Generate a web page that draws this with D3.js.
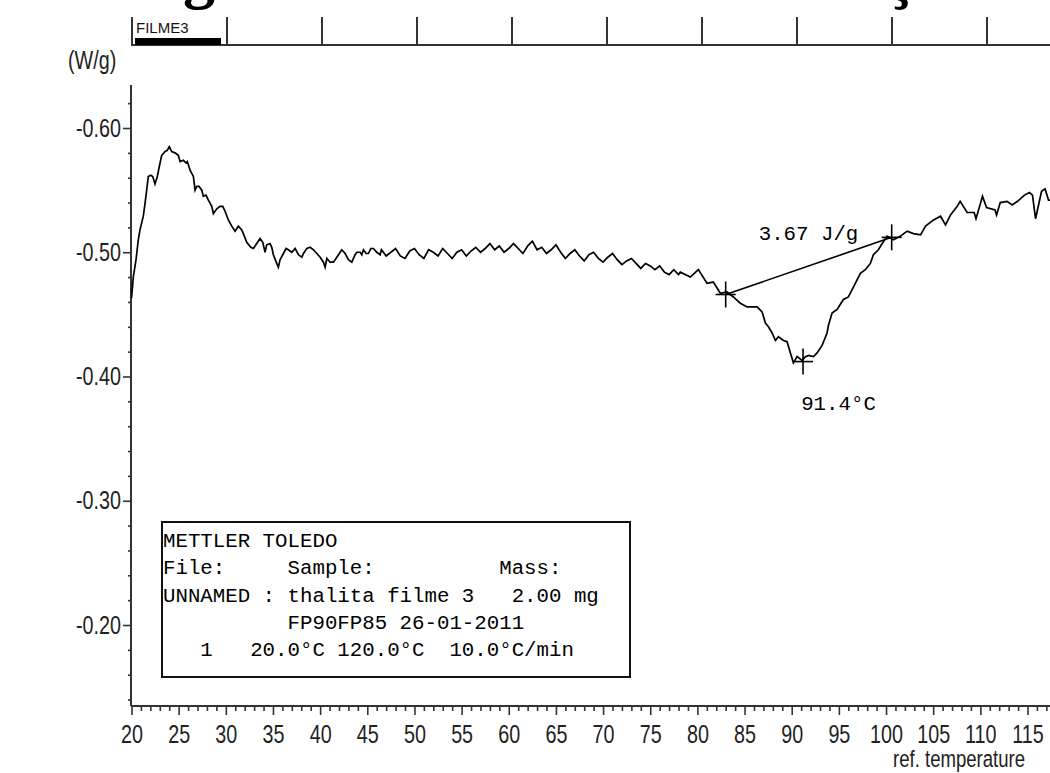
<!DOCTYPE html>
<html>
<head>
<meta charset="utf-8">
<script src="https://cdn.jsdelivr.net/npm/d3@7"></script>
<style>
    body { margin: 0; background: #fff; }
    svg { display: block; }
    .sans { font-family: "Liberation Sans", Arial, sans-serif; }
    .mono { font-family: "Liberation Mono", "Courier New", monospace; }
</style>
</head>
<body>
<svg width="1050" height="773"></svg>
<script>
// DSC curve, temperature (°C) / heat flow (W/g)
// heating ramp start-up, 20-46 °C
var rampTemps = [
    20.00, 20.19, 20.48, 20.72, 20.90, 21.25, 21.43, 21.61, 21.78, 22.04,
    22.25, 22.49, 22.74, 22.92, 23.20, 23.55, 23.80, 24.01, 24.26, 24.61,
    24.96, 25.15, 25.50, 25.78, 25.92, 26.21, 26.56, 26.74, 26.92, 27.16,
    27.45, 27.62, 27.90, 28.15, 28.51, 28.68, 29.04, 29.39, 29.68, 29.92,
    30.27, 30.63, 30.98, 31.33, 31.69, 31.86, 32.22, 32.65, 32.92, 33.28,
    33.63, 33.92, 34.16, 34.34, 34.69, 34.87, 35.04, 35.40, 35.57, 35.75,
    36.04, 36.39, 36.63, 36.99, 37.35, 37.70, 38.06, 38.23, 38.59, 38.94,
    39.29, 39.65, 40.00, 40.35, 40.53, 40.71, 41.06, 41.41, 41.77, 42.12,
    42.30, 42.65, 43.00, 43.36, 43.71, 43.89, 44.24, 44.42, 44.59, 44.88,
    45.12, 45.38, 45.65, 46.01, 46.36
];
var rampFlow = [
    -0.463, -0.480, -0.494, -0.510, -0.518, -0.529, -0.539, -0.550, -0.561, -0.562,
    -0.561, -0.555, -0.561, -0.568, -0.578, -0.581, -0.582, -0.585, -0.581, -0.580,
    -0.578, -0.573, -0.574, -0.572, -0.573, -0.566, -0.561, -0.550, -0.553, -0.553,
    -0.550, -0.545, -0.546, -0.542, -0.537, -0.531, -0.535, -0.537, -0.537, -0.533,
    -0.526, -0.521, -0.517, -0.521, -0.518, -0.515, -0.508, -0.504, -0.503, -0.507,
    -0.511, -0.508, -0.500, -0.506, -0.507, -0.504, -0.498, -0.491, -0.488, -0.494,
    -0.498, -0.503, -0.502, -0.500, -0.503, -0.498, -0.496, -0.499, -0.503, -0.504,
    -0.502, -0.499, -0.496, -0.492, -0.488, -0.495, -0.492, -0.492, -0.496, -0.500,
    -0.502, -0.499, -0.494, -0.492, -0.498, -0.500, -0.500, -0.498, -0.502, -0.499,
    -0.499, -0.503, -0.503, -0.500, -0.498
];
// plateau, 46.5-78 °C
var plateauTemps = [
    46.5, 47, 47.5, 48, 48.5, 49, 49.5, 50, 50.5, 51,
    51.5, 52, 52.5, 53, 53.5, 54, 54.5, 55, 55.5, 56,
    56.5, 57, 57.5, 58, 58.5, 59, 59.5, 60, 60.5, 61,
    61.5, 62, 62.5, 63, 63.5, 64, 64.5, 65, 65.5, 66,
    66.5, 67, 67.5, 68, 68.5, 69, 69.5, 70, 70.5, 71,
    71.5, 72, 72.5, 73, 73.5, 74, 74.5, 75, 75.5, 76,
    76.5, 77, 77.5, 78
];
var plateauFlow = [
    -0.502, -0.497, -0.500, -0.503, -0.497, -0.495, -0.501, -0.503, -0.498, -0.495,
    -0.502, -0.500, -0.497, -0.503, -0.499, -0.495, -0.500, -0.502, -0.497, -0.501,
    -0.504, -0.500, -0.503, -0.507, -0.502, -0.505, -0.500, -0.503, -0.507, -0.503,
    -0.499, -0.505, -0.509, -0.502, -0.504, -0.499, -0.502, -0.506, -0.500, -0.495,
    -0.499, -0.502, -0.497, -0.493, -0.498, -0.500, -0.495, -0.492, -0.496, -0.499,
    -0.494, -0.490, -0.493, -0.495, -0.491, -0.487, -0.491, -0.489, -0.486, -0.489,
    -0.484, -0.482, -0.486, -0.482
];
// melting peak and end of run, 78-117.4 °C
var peakTemps = [
    78.19, 79.25, 80.10, 81.02, 81.69, 82.43, 83.14, 83.81, 84.55, 85.27,
    86.33, 86.86, 87.21, 87.53, 87.92, 88.27, 88.59, 89.12, 89.51, 89.86,
    90.18, 90.57, 91.10, 91.46, 91.78, 92.31, 92.69, 93.22, 93.75, 93.89,
    94.28, 94.81, 95.48, 96.01, 96.54, 97.28, 97.81, 98.34, 98.66, 99.19,
    99.59, 100.12, 100.79, 101.53, 102.24, 102.91, 103.66, 104.19, 105.04, 105.78,
    106.31, 106.84, 107.55, 107.86, 108.60, 109.35, 109.54, 110.23, 110.66, 111.56,
    111.72, 112.11, 112.83, 113.38, 113.94, 114.68, 115.21, 115.53, 115.85, 116.23,
    116.49, 116.86, 117.23, 117.44
];
var peakFlowVals = [
    -0.484, -0.480, -0.486, -0.475, -0.476, -0.467, -0.468, -0.464, -0.459, -0.456,
    -0.456, -0.452, -0.443, -0.440, -0.435, -0.429, -0.432, -0.429, -0.428, -0.419,
    -0.411, -0.416, -0.413, -0.416, -0.417, -0.416, -0.419, -0.425, -0.435, -0.441,
    -0.451, -0.454, -0.462, -0.464, -0.472, -0.483, -0.486, -0.491, -0.498, -0.502,
    -0.507, -0.513, -0.510, -0.513, -0.517, -0.515, -0.514, -0.521, -0.526, -0.529,
    -0.522, -0.530, -0.537, -0.541, -0.532, -0.532, -0.527, -0.545, -0.536, -0.534,
    -0.530, -0.540, -0.541, -0.538, -0.541, -0.546, -0.548, -0.546, -0.527, -0.540,
    -0.549, -0.551, -0.542, -0.542
];

var xTicks = [20, 25, 30, 35, 40, 45, 50, 55, 60, 65, 70, 75, 80, 85, 90, 95, 100, 105, 110, 115];
var yTicks = [-0.60, -0.50, -0.40, -0.30, -0.20];
var topTicks = [0, 1, 2, 3, 4, 5, 6, 7, 8, 9];   // minutes

// integration limits and peak
var intTemps = [83.0, 100.6];
var intFlows = [-0.466, -0.512];
var peakTemp = 91.2, peakFlow = -0.412;

var boxLines = [
    'METTLER TOLEDO',
    'File:     Sample:          Mass:',
    'UNNAMED : thalita filme 3   2.00 mg',
    '          FP90FP85 26-01-2011',
    '   1   20.0°C 120.0°C  10.0°C/min'
];

var svg = d3.select('svg');

var x = d3.scaleLinear().domain([20, 115]).range([131.5, 1027.5]);
var y = d3.scaleLinear().domain([-0.60, -0.20]).range([128, 625]);
var tx = d3.scaleLinear().domain([0, 9]).range([132, 987]);

var SQ = 0.79;   // horizontal squeeze for the narrow axis font

// remains of a cut-off title
svg.append('text')
    .attr('x', 183).attr('y', -4)
    .style('font-family', '"Liberation Serif", serif')
    .style('font-weight', 'bold')
    .style('font-size', '64px')
    .text('g');
svg.append('text')
    .attr('x', 886).attr('y', -4)
    .style('font-family', '"Liberation Serif", serif')
    .style('font-weight', 'bold')
    .style('font-size', '64px')
    .text('ç');

// top time strip
svg.append('line')
    .attr('x1', 131).attr('x2', 1050).attr('y1', 45).attr('y2', 45)
    .attr('stroke', '#333').attr('stroke-width', 2);
svg.selectAll('.ttick')
    .data(topTicks)
    .enter().append('line')
    .attr('class', 'ttick')
    .attr('x1', d => tx(d)).attr('x2', d => tx(d))
    .attr('y1', 17).attr('y2', 45)
    .attr('stroke', '#333').attr('stroke-width', 2);
svg.append('rect')
    .attr('x', 135).attr('y', 38).attr('width', 86).attr('height', 7)
    .attr('fill', '#000');
svg.append('text')
    .attr('class', 'sans')
    .attr('x', 136).attr('y', 33)
    .style('font-size', '15px')
    .attr('fill', '#111')
    .text('FILME3');

// axis lines
svg.append('line')
    .attr('x1', 131).attr('x2', 131).attr('y1', 85).attr('y2', 706)
    .attr('stroke', '#333').attr('stroke-width', 2);
svg.append('line')
    .attr('x1', 131).attr('x2', 1050).attr('y1', 706).attr('y2', 706)
    .attr('stroke', '#333').attr('stroke-width', 2);

// y axis
var yMinor = d3.range(-0.62, -0.13, 0.02).filter(v => yTicks.every(t => Math.abs(t - v) > 0.005));
var gyMinor = svg.append('g')
    .attr('transform', 'translate(131,0)')
    .call(d3.axisLeft(y).tickValues(yMinor).tickSize(3).tickFormat(''));
var gy = svg.append('g')
    .attr('class', 'sans')
    .attr('transform', 'translate(131,0)')
    .call(d3.axisLeft(y).tickValues(yTicks).tickSize(8).tickPadding(2).tickFormat(d => d.toFixed(2)));

// x axis
var xMinor = d3.range(20, 118, 1).filter(v => v % 5 !== 0);
var gxMinor = svg.append('g')
    .attr('transform', 'translate(0,706)')
    .call(d3.axisBottom(x).tickValues(xMinor).tickSize(5).tickFormat(''));
var gx = svg.append('g')
    .attr('class', 'sans')
    .attr('transform', 'translate(0,706)')
    .call(d3.axisBottom(x).tickValues(xTicks).tickSize(9).tickPadding(10).tickFormat(d3.format('d')));

[gy, gyMinor, gx, gxMinor].forEach(function(g) {
    g.select('.domain').remove();
    g.selectAll('line').attr('stroke', '#333').attr('stroke-width', 1.6);
    g.selectAll('text').attr('fill', '#222').style('font-size', '25px')
        .attr('transform', 'scale(' + SQ + ',1)');
});
gy.selectAll('text').attr('x', -10 / SQ);

svg.append('text')
    .attr('class', 'sans')
    .attr('transform', 'translate(68,69) scale(' + SQ + ',1)')
    .style('font-size', '25px')
    .attr('fill', '#222')
    .text('(W/g)');
svg.append('text')
    .attr('class', 'sans')
    .attr('transform', 'translate(1025,767) scale(' + SQ + ',1)')
    .attr('text-anchor', 'end')
    .style('font-size', '23.5px')
    .attr('fill', '#222')
    .text('ref. temperature');

// curve
var temps = rampTemps.concat(plateauTemps, peakTemps);
var flows = rampFlow.concat(plateauFlow, peakFlowVals);
var pts = temps.map((t, i) => [t, flows[i]]);
svg.append('path')
    .datum(pts)
    .attr('fill', 'none')
    .attr('stroke', '#000')
    .attr('stroke-width', 1.7)
    .attr('d', d3.line().x(d => x(d[0])).y(d => y(d[1])));

// integration baseline
svg.append('line')
    .attr('x1', x(intTemps[0])).attr('y1', y(intFlows[0]))
    .attr('x2', x(intTemps[1])).attr('y2', y(intFlows[1]))
    .attr('stroke', '#000').attr('stroke-width', 1.6);

var marks = [[intTemps[0], intFlows[0]], [intTemps[1], intFlows[1]], [peakTemp, peakFlow]];
marks.forEach(function(m) {
    var cx = x(m[0]), cy = y(m[1]);
    svg.append('line').attr('x1', cx).attr('x2', cx).attr('y1', cy - 13).attr('y2', cy + 13)
        .attr('stroke', '#000').attr('stroke-width', 1.6);
    svg.append('line').attr('x1', cx - 10).attr('x2', cx + 10).attr('y1', cy).attr('y2', cy)
        .attr('stroke', '#000').attr('stroke-width', 1.6);
});

svg.append('text')
    .attr('class', 'mono')
    .attr('x', x(86.5)).attr('y', y(-0.510))
    .style('font-size', '20.75px')
    .text('3.67 J/g');
svg.append('text')
    .attr('class', 'mono')
    .attr('x', x(91.0)).attr('y', y(-0.373))
    .style('font-size', '20.75px')
    .text('91.4°C');

// info box
svg.append('rect')
    .attr('x', 162).attr('y', 522).attr('width', 468).attr('height', 155)
    .attr('fill', '#fff').attr('stroke', '#111').attr('stroke-width', 2);
svg.selectAll('.boxline')
    .data(boxLines)
    .enter().append('text')
    .attr('class', 'mono boxline')
    .attr('x', 163)
    .attr('y', (d, i) => 547 + i * 27.3)
    .style('font-size', '20.75px')
    .style('white-space', 'pre')
    .attr('xml:space', 'preserve')
    .text(d => d);
</script>
</body>
</html>
